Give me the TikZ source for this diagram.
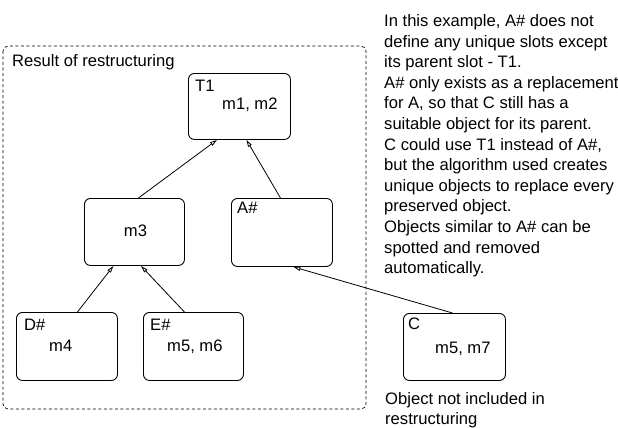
\documentclass[tikz,border=0pt]{standalone}
\usepackage{fontspec}
\setmainfont{Liberation Sans}
\usetikzlibrary{arrows.meta}
\begin{document}
\begin{tikzpicture}[x=1pt,y=-1pt,
  txt/.style={font=\fontsize{16.6}{20.6}\selectfont, inner sep=0pt},
  obj/.style={draw, rounded corners=6pt, line width=0.9pt, inner sep=0pt, anchor=north west},
  frame/.style={draw, dashed, dash pattern=on 3pt off 2.5pt, rounded corners=5pt, line width=0.7pt},
  link/.style={line width=0.8pt, -{Triangle[open,length=7pt,width=4pt]}}]
\useasboundingbox (0,0) rectangle (618,428);

% region holding the restructured objects
\draw[frame] (3,46) rectangle (366,409);
\node[txt, anchor=base west] (title) at (12,66.5) {Result of restructuring};

% object boxes
\node[obj, minimum width=102pt, minimum height=66pt] (T1) at (188,73) {};
\node[obj, minimum width=100pt, minimum height=67pt] (M3) at (84,198) {};
\node[obj, minimum width=101pt, minimum height=68pt] (AS) at (231,198) {};
\node[obj, minimum width=101pt, minimum height=68pt] (DS) at (16,312) {};
\node[obj, minimum width=100pt, minimum height=68pt] (ES) at (143,312) {};
\node[obj, minimum width=102pt, minimum height=67pt] (C) at (403,313) {};

% box captions and slots
\node[txt, anchor=base west] (T1name) at (195,92) {T1};
\node[txt, anchor=base west] (T1slots) at (222,109) {m1, m2};
\node[txt, anchor=base] (M3slots) at (135.5,236.5) {m3};
\node[txt, anchor=base west] (ASname) at (237,213.3) {A\#};
\node[txt, anchor=base west] (DSname) at (24,330) {D\#};
\node[txt, anchor=base west] (DSslots) at (49,351) {m4};
\node[txt, anchor=base west] (ESname) at (150,330) {E\#};
\node[txt, anchor=base west] (ESslots) at (167,351) {m5, m6};
\node[txt, anchor=base west] (Cname) at (408,329) {C};
\node[txt, anchor=base west] (Cslots) at (435,353) {m5, m7};

% parent links
\draw[link] ([xshift=4pt]M3.north) -- ([xshift=-22.5pt]T1.south);
\draw[link] ([xshift=-1.5pt]AS.north) -- ([xshift=7pt]T1.south);
\draw[link] ([xshift=10.5pt]DS.north) -- ([xshift=-21pt]M3.south);
\draw[link] ([xshift=-9pt]ES.north) -- ([xshift=6.5pt]M3.south);
\draw[link] ([xshift=-2pt]C.north) -- ([xshift=11.5pt]AS.south);

% notes
\node[txt, anchor=north west, align=left] (note) at (384,14.3)
 {In this example, A\# does not\\
  define any unique slots except\\
  its parent slot - T1.\\
  A\# only exists as a replacement\\
  for A, so that C still has a\\
  suitable object for its parent.\\
  C could use T1 instead of A\#,\\
  but the algorithm used creates\\
  unique objects to replace every\\
  preserved object.\\
  Objects similar to A\# can be\\
  spotted and removed\\
  automatically.};
\node[txt, anchor=north west, align=left] (Cnote) at (385,392)
 {Object not included in\\restructuring};
\end{tikzpicture}
\end{document}
